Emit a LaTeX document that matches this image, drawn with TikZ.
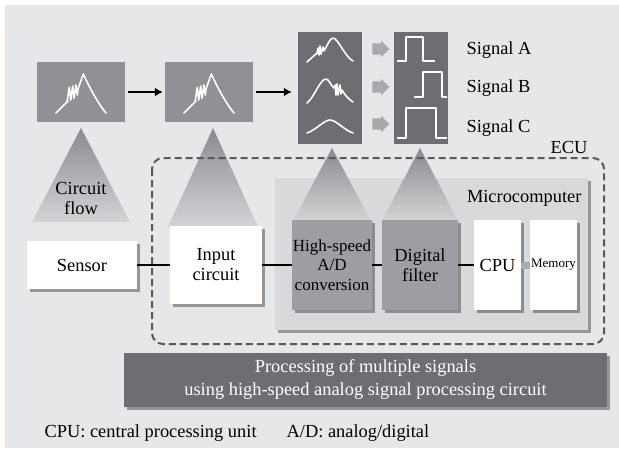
\documentclass[tikz,border=0pt]{standalone}
\usepackage{fontspec}
\setmainfont{Liberation Serif}
\usetikzlibrary{arrows.meta, shapes.arrows, shadows}
\definecolor{bggray}{HTML}{E6E7E8}
\definecolor{boxgray}{HTML}{909194}
\definecolor{darkbox}{HTML}{6D6E71}
\definecolor{panelgray}{HTML}{D8D9DB}
\definecolor{stagegray}{HTML}{9C9EA1}
\definecolor{eculine}{HTML}{58595B}
\definecolor{arrowgray}{HTML}{A7A9AC}
\definecolor{fadetop}{HTML}{8A8B8E}
\definecolor{fadebottom}{HTML}{D3D4D6}
\tikzset{
  every node/.append style={font=\fontsize{18.4}{20}\selectfont},
  shadowed/.style={drop shadow={shadow xshift=2.5pt, shadow yshift=-2.5pt, fill=black, opacity=0.35}},
  wavebox/.style={rectangle, fill=boxgray, inner sep=0pt},
  wave/.style={white, line width=1.6pt, line join=round, line cap=round},
  stage/.style={rectangle, fill=white, inner sep=0pt, align=center, shadowed},
  panel/.style={rectangle, fill=panelgray, inner sep=0pt, shadowed},
  fade/.style={top color=fadetop, bottom color=fadebottom},
  ecu/.style={eculine, line width=2pt, dash pattern=on 7pt off 4pt, rounded corners=11pt},
  flow/.style={-{Latex[length=8pt, width=9pt]}, line width=2pt, black},
  link/.style={line width=2.5pt, black},
  memlink/.style={line width=7pt, arrowgray},
  blockarrow/.style={single arrow, fill=arrowgray, inner sep=5.5pt, minimum height=16pt,
    single arrow head extend=2.5pt},
  banner/.style={rectangle, fill=darkbox, text=white, align=center, inner sep=0pt, shadowed,
    font=\fontsize{18.4}{23}\selectfont}
}
\begin{document}
\begin{tikzpicture}[x=1pt, y=-1pt]
\useasboundingbox (0,0) rectangle (619,448);

% Background panel.
\fill[bggray] (5,5) rectangle (619,448);

% Waveform boxes.
\node[wavebox, minimum width=88pt, minimum height=60pt] (rawone) at (81,92) {};
\node[wavebox, minimum width=88pt, minimum height=60pt] (rawtwo) at (209,92) {};
\node[wavebox, fill=darkbox, minimum width=64pt, minimum height=112pt] (multi) at (330,88) {};
\node[wavebox, fill=darkbox, minimum width=54pt, minimum height=112pt] (pulses) at (421,88) {};

% Noisy waveform in the first two boxes.
\foreach \b in {rawone,rawtwo} {
  \begin{scope}[shift={(\b)}]
    \draw[wave] (-25,21) -- (-13,9) -- (-14,10) -- (-11.7,-4.7) -- (-10.3,8) -- (-8.3,-6)
      -- (-7,6.3) -- (-5,-7) -- (-3.7,3) -- (-3,-3) -- (2.3,-18)
      .. controls (6,-10) and (15,9) .. (25,21);
  \end{scope}
}

% Three separated waveforms.
\draw[wave] (307,62) -- (317,53) -- (318,48) -- (319,55) -- (320,46) -- (321,54) -- (323,47)
  -- (324,51) .. controls (327,46) and (330,38) .. (333,38) .. controls (338,38) and (345,57) .. (353,61);
\draw[wave] (307,103) .. controls (314,98) and (320,79) .. (326,79) .. controls (329,79) and (331,86) .. (334,88)
  -- (335,85) -- (336,95) -- (337,84) -- (338,95) -- (340,85) -- (341,94) -- (342,90)
  .. controls (346,97) and (350,100) .. (353,102);
\draw[wave] (307,133) .. controls (316,130) and (324,120) .. (330,120) .. controls (336,120) and (344,130) .. (353,133);

% Pulses.
\draw[wave, line cap=butt] (397,61) -- (406,61) -- (406,37) -- (423,37) -- (423,61) -- (435,61);
\draw[wave, line cap=butt] (414,97) -- (423,97) -- (423,72) -- (442,72) -- (442,97) -- (447,97);
\draw[wave, line cap=butt] (397,138) -- (406,138) -- (406,108) -- (436,108) -- (436,138) -- (447,138);

% Arrows between the boxes.
\draw[flow, shorten <=3pt, shorten >=2pt] (rawone) -- (rawtwo);
\draw[flow, shorten <=3pt, shorten >=6pt] (rawtwo.east) -- (rawtwo.east -| multi.west);
\node[blockarrow] (arrA) at (378,49) {};
\node[blockarrow] (arrB) at (378,87) {};
\node[blockarrow] (arrC) at (378,124) {};

% Signal names.
\node[anchor=west] (siga) at (463,50) {Signal A};
\node[anchor=west] (sigb) at (463,88) {Signal B};
\node[anchor=west] (sigc) at (463,128) {Signal C};

% Microcomputer panel.
\node[panel, minimum width=313pt, minimum height=152pt] (micro) at (431.5,254) {};
\node[anchor=east] (microlab) at (585,198) {Microcomputer};

% Fading triangles.
\shade[fade] (81,128) -- (130,222) -- (32,222) -- cycle;
\shade[fade] (213,128) -- (258,227) -- (168,227) -- cycle;
\shade[fade] (332,148) -- (371,221) -- (293,221) -- cycle;
\shade[fade] (420,148) -- (458,221) -- (382,221) -- cycle;
\node[align=center] (flowlab) at (81,198) {Circuit\\flow};

% ECU outline.
\draw[ecu] (152,158) rectangle (604,344);
\node (eculab) at (569,147) {ECU};

% Processing stages.
\node[stage, minimum width=110pt, minimum height=48pt] (sensor) at (82,265) {Sensor};
\node[stage, minimum width=92pt, minimum height=78pt] (input) at (216,265) {Input\\circuit};
\node[stage, fill=stagegray, minimum width=80pt, minimum height=90pt,
  font=\fontsize{17}{19.5}\selectfont] (adconv) at (332,265) {High-speed\\A/D\\conversion};
\node[stage, fill=stagegray, minimum width=76pt, minimum height=90pt] (dfilter) at (420,265) {Digital\\filter};
\node[stage, minimum width=47pt, minimum height=90pt] (cpu) at (497.5,265) {CPU};
\node[stage, minimum width=47pt, minimum height=90pt, font=\fontsize{13}{15}\selectfont] (memory) at (553.5,265) {Memory};

\draw[link] (sensor) -- (input);
\draw[link] (input) -- (adconv);
\draw[link] (adconv) -- (dfilter);
\draw[link] (dfilter) -- (cpu);
\draw[memlink] (cpu) -- (memory);

% Banner and footnote.
\node[banner, minimum width=483pt, minimum height=54pt] (banner) at (365.5,380)
  {Processing of multiple signals\\using high-speed analog signal processing circuit};
\node[anchor=west] (note) at (41,433) {CPU: central processing unit\hspace{30pt}A/D: analog/digital};

\end{tikzpicture}
\end{document}
